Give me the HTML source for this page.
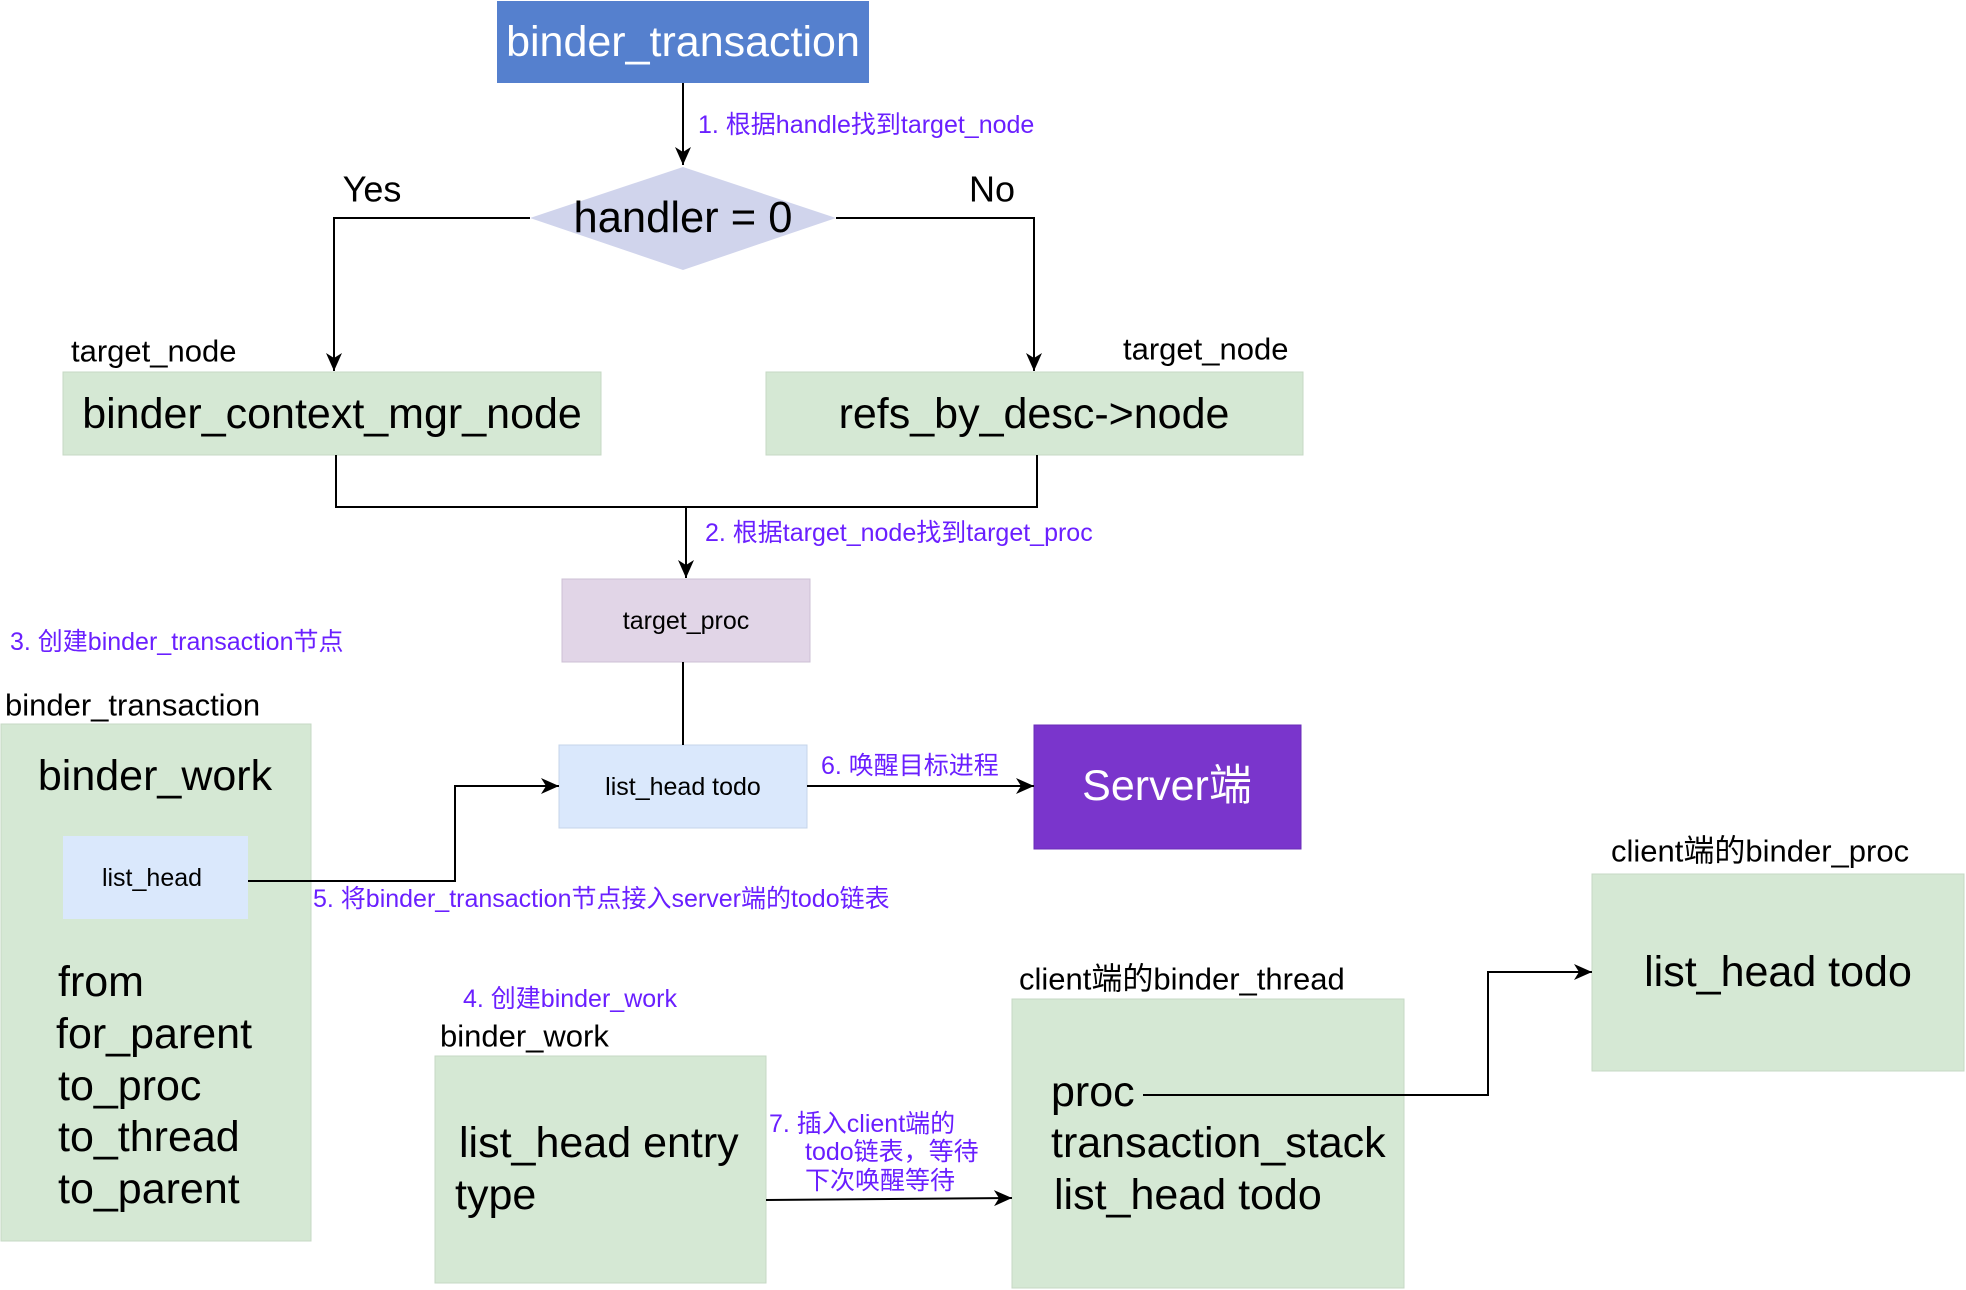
<!DOCTYPE html>
<html><head><meta charset="utf-8"><style>
html,body{margin:0;padding:0;background:#fff;}
svg{display:block;}
text{font-family:"Liberation Sans","Noto Sans CJK SC",sans-serif;dominant-baseline:central;}
.p{fill:#6a1fff;font-size:25px;}
</style></head><body>
<svg width="1966" height="1290" viewBox="0 0 1966 1290" xmlns="http://www.w3.org/2000/svg">
<defs>
<marker id="b" markerWidth="20" markerHeight="20" refX="18" refY="10" orient="auto" markerUnits="userSpaceOnUse">
<path d="M0,2 L18,10 L0,18 L5,10 z" fill="#000"/>
</marker>
</defs>
<rect x="497" y="1" width="372" height="82" fill="#5580ce"/>
<text x="683" y="42" font-size="43" fill="#fff" text-anchor="middle">binder_transaction</text>
<polygon points="683,167 836,218 683,270 530,218" fill="#d0d4ec"/>
<text x="683" y="218" font-size="43.5" text-anchor="middle">handler = 0</text>
<text x="372" y="189" font-size="36" text-anchor="middle">Yes</text>
<text x="992" y="189" font-size="36" text-anchor="middle">No</text>
<text x="71" y="351" font-size="31">target_node</text>
<text x="1123" y="349" font-size="31">target_node</text>
<rect x="63" y="372" width="538" height="83" fill="#d5e8d4" stroke="#c6d8c4"/>
<text x="332" y="414" font-size="43" text-anchor="middle">binder_context_mgr_node</text>
<rect x="766" y="372" width="537" height="83" fill="#d5e8d4" stroke="#c6d8c4"/>
<text x="1034" y="414" font-size="43" text-anchor="middle">refs_by_desc-&gt;node</text>
<rect x="562" y="579" width="248" height="83" fill="#e1d5e7" stroke="#cdc0d4"/>
<text x="686" y="621" font-size="25" text-anchor="middle">target_proc</text>
<rect x="559" y="745" width="248" height="83" fill="#dae8fc" stroke="#c5d4ea"/>
<text x="683" y="787" font-size="25" text-anchor="middle">list_head  todo</text>
<rect x="1034" y="725" width="267" height="124" fill="#7a35cc" stroke="#6a2cb8"/>
<text x="1167" y="786" font-size="43" fill="#fff" text-anchor="middle">Server端</text>
<text x="5" y="705" font-size="31">binder_transaction</text>
<rect x="1" y="724" width="310" height="517" fill="#d5e8d4" stroke="#c6d8c4"/>
<text x="155" y="776" font-size="43" text-anchor="middle">binder_work</text>
<rect x="63" y="836" width="185" height="83" fill="#dae8fc"/>
<text x="152" y="878" font-size="25" text-anchor="middle">list_head</text>
<text x="58" y="982" font-size="43">from</text>
<text x="56" y="1034" font-size="43">for_parent</text>
<text x="58" y="1086" font-size="43">to_proc</text>
<text x="58" y="1137" font-size="43">to_thread</text>
<text x="58" y="1189" font-size="43">to_parent</text>
<text x="440" y="1036" font-size="31">binder_work</text>
<rect x="435" y="1056" width="331" height="227" fill="#d5e8d4" stroke="#c6d8c4"/>
<text x="459" y="1143" font-size="43">list_head entry</text>
<text x="455" y="1195" font-size="43">type</text>
<text x="1019" y="979" font-size="31">client端的binder_thread</text>
<rect x="1012" y="999" width="392" height="289" fill="#d5e8d4" stroke="#c6d8c4"/>
<text x="1051" y="1092" font-size="43">proc</text>
<text x="1051" y="1143" font-size="43">transaction_stack</text>
<text x="1054" y="1195" font-size="43">list_head todo</text>
<text x="1611" y="851" font-size="31">client端的binder_proc</text>
<rect x="1592" y="874" width="372" height="197" fill="#d5e8d4" stroke="#c6d8c4"/>
<text x="1778" y="972" font-size="43" text-anchor="middle">list_head todo</text>
<g stroke="#000" stroke-width="2" fill="none">
<line x1="683" y1="83" x2="683" y2="165" marker-end="url(#b)"/>
<polyline points="530,218 334,218 334,371" marker-end="url(#b)"/>
<polyline points="836,218 1034,218 1034,371" marker-end="url(#b)"/>
<polyline points="336,455 336,507 1037,507 1037,455"/>
<line x1="686" y1="507" x2="686" y2="578" marker-end="url(#b)"/>
<line x1="683" y1="662" x2="683" y2="745"/>
<line x1="807" y1="786" x2="1034" y2="786" marker-end="url(#b)"/>
<polyline points="248,881 455,881 455,786 559,786" marker-end="url(#b)"/>
<line x1="766" y1="1200" x2="1012" y2="1198" marker-end="url(#b)"/>
<polyline points="1143,1095 1488,1095 1488,972 1592,972" marker-end="url(#b)"/>
</g>
<text class="p" x="698" y="125">1. 根据handle找到target_node</text>
<text class="p" x="705" y="533">2. 根据target_node找到target_proc</text>
<text class="p" x="10" y="642">3. 创建binder_transaction节点</text>
<text class="p" x="463" y="999">4. 创建binder_work</text>
<text class="p" x="313" y="899">5. 将binder_transaction节点接入server端的todo链表</text>
<text class="p" x="821" y="766">6. 唤醒目标进程</text>
<text class="p" x="769" y="1124">7. 插入client端的</text>
<text class="p" x="805" y="1152">todo链表，等待</text>
<text class="p" x="805" y="1181">下次唤醒等待</text>
</svg>
</body></html>
